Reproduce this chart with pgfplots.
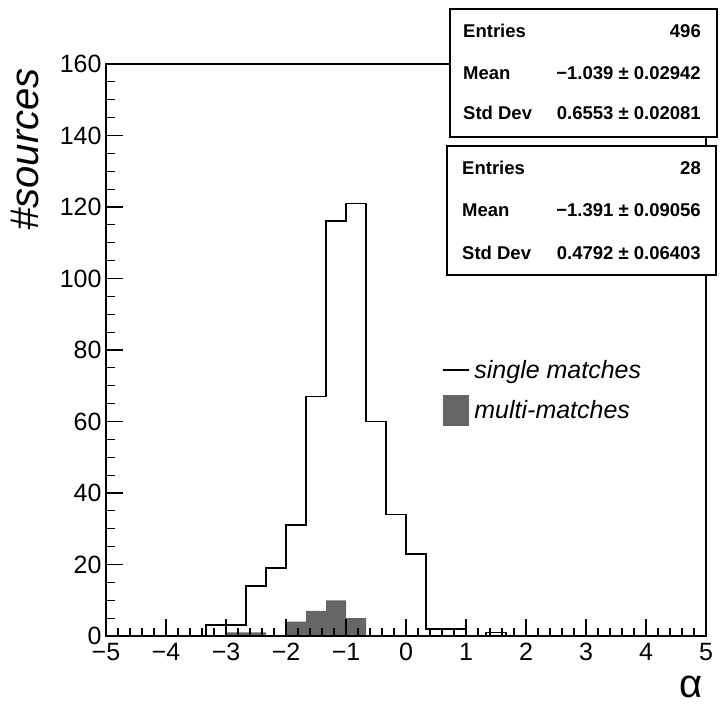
\documentclass[border=0pt]{standalone}
\usepackage{pgfplots}
\pgfplotsset{compat=1.18}
\usepackage{fontspec}
\setmainfont{Liberation Sans}
\definecolor{multigray}{HTML}{666666}

\begin{document}
\begin{tikzpicture}
\useasboundingbox (0pt,0pt) rectangle (720pt,705pt);
\begin{axis}[
  at={(106pt,69pt)}, anchor=south west,
  scale only axis, width=600pt, height=572pt,
  xmin=-5, xmax=5, ymin=0, ymax=160,
  xtick={-5,-4,-3,-2,-1,0,1,2,3,4,5},
  ytick={0,20,40,60,80,100,120,140,160},
  xticklabels={−5,−4,−3,−2,−1,0,1,2,3,4,5},
  yticklabels={0,20,40,60,80,100,120,140,160},
  minor x tick num=4, minor y tick num=3,
  tick align=inside, xtick pos=bottom, ytick pos=left,
  major tick length=17pt, minor tick length=8.5pt,
  tick style={line width=1.2pt, black},
  axis line style={line width=1.4pt},
  tick label style={font=\fontsize{25}{25}\selectfont},
  xticklabel style={yshift=-4pt},
  yticklabel style={xshift=-1pt},
  axis on top,
  ylabel={\#sources},
  ylabel style={at={(axis description cs:-0.1133,0.993)}, anchor=base east, inner sep=0pt, font=\itshape\fontsize{40}{40}\selectfont},
  xlabel={α},
  xlabel style={at={(axis description cs:0.995,-0.108)}, anchor=base east, inner sep=0pt, font=\fontsize{40}{40}\selectfont},
  legend style={at={(axis description cs:0.56,0.486)}, anchor=north west, draw=none, fill=none,
    font=\itshape\fontsize{25}{25}\selectfont, inner sep=0pt, row sep=13pt, column sep=0pt,
    nodes={inner xsep=5pt, inner ysep=2pt}},
  legend cell align=left,
]
\addplot[black, line width=1.6pt, const plot mark left,
  legend image code/.code={\draw[black, line width=1.2pt] (0pt,0pt) -- (26pt,0pt);}]
  coordinates {(-5,0) (-3.3333,3) (-3,3) (-2.6667,14) (-2.3333,19) (-2,31) (-1.6667,67)
  (-1.3333,116) (-1,121) (-0.6667,60) (-0.3333,34) (0,23) (0.3333,2) (0.6667,2)
  (1,0) (1.3333,1) (1.6667,0) (5,0)};
\addlegendentry{single matches}
\addplot[draw=none, fill=multigray, const plot mark left,
  legend image code/.code={\fill[multigray] (0pt,-15.5pt) rectangle (26pt,15.5pt);}]
  coordinates {(-3,1) (-2.6667,1) (-2.3333,0) (-2,4) (-1.6667,7) (-1.3333,10) (-1,5) (-0.6667,0)} \closedcycle;
\addlegendentry{multi-matches}
\end{axis}
% statistics boxes
\draw[line width=1.4pt, fill=white] (450pt,568pt) rectangle (717pt,696pt);
\draw[line width=1.4pt, fill=white] (447pt,430pt) rectangle (716pt,559pt);
\begin{scope}[every node/.style={inner sep=0pt, font=\bfseries\fontsize{18.5}{19}\selectfont}]
\node[anchor=base west] at (463pt,667pt) {Entries};
\node[anchor=base east] at (701pt,667pt) {496};
\node[anchor=base west] at (463pt,625pt) {Mean};
\node[anchor=base east] at (701pt,625pt) {−1.039 ± 0.02942};
\node[anchor=base west] at (463pt,585pt) {Std Dev};
\node[anchor=base east] at (701pt,585pt) {0.6553 ± 0.02081};
\node[anchor=base west] at (462pt,530pt) {Entries};
\node[anchor=base east] at (701pt,530pt) {28};
\node[anchor=base west] at (462pt,488pt) {Mean};
\node[anchor=base east] at (701pt,488pt) {−1.391 ± 0.09056};
\node[anchor=base west] at (462pt,445pt) {Std Dev};
\node[anchor=base east] at (701pt,445pt) {0.4792 ± 0.06403};
\end{scope}
\end{tikzpicture}
\end{document}
